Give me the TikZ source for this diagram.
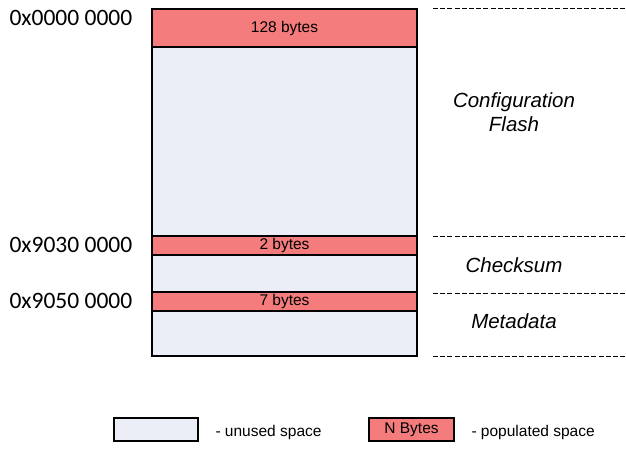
\documentclass[tikz,border=0pt]{standalone}
\usepackage{fontspec}
\setmainfont{Liberation Sans}
\newfontfamily\addrfont{Carlito}
\usetikzlibrary{positioning}
\definecolor{unused}{RGB}{235,238,246}
\definecolor{populated}{RGB}{244,124,124}
\tikzset{
  free/.style={draw=black, line width=1.6pt, fill=unused},
  used/.style={draw=black, line width=1.6pt, fill=populated},
  bound/.style={dash pattern=on 5pt off 2.2pt, line width=1pt},
  addr/.style={font=\addrfont\fontsize{23.5}{26}\selectfont, anchor=west},
  region/.style={font=\itshape\fontsize{20.5}{24}\selectfont, align=center},
  small/.style={font=\fontsize{15.5}{18}\selectfont}
}
\begin{document}
\begin{tikzpicture}[x=1pt, y=-1pt]
      \useasboundingbox (0, 0) rectangle (626, 449);
      % memory map
      \draw [free] (152, 9) rectangle (417, 356);
      \draw [used] (152, 9) rectangle (417, 47) node (cfg) [pos=.5, small] {128 bytes};
      \draw [used] (152, 236) rectangle (417, 255) node (crc) [pos=.5, small] {2 bytes};
      \draw [used] (152, 292) rectangle (417, 311) node (meta) [pos=.5, small] {7 bytes};
      % addresses
      \draw (6, 18) node (a0) [addr] {0x0000 0000}
            (6, 245) node (a1) [addr] {0x9030 0000}
            (6, 301) node (a2) [addr] {0x9050 0000};
      % boundaries
      \draw [bound] (433, 9) -- (626, 9)
                    (433, 236) -- (626, 236)
                    (433, 293) -- (626, 293)
                    (433, 356) -- (626, 356);
      \draw (514, 112) node (flash) [region] {Configuration\\Flash}
            (514, 265) node (chk) [region] {Checksum}
            (514, 321) node (md) [region] {Metadata};
      % legend
      \draw [free, line width=1.3pt] (114, 418) rectangle (198, 441);
      \draw [used, line width=1.3pt] (369, 418) rectangle (454, 441) node (nb) [pos=.5, small] {N Bytes};
      \node (lfree) [small, anchor=west] at (212, 432) {- unused space};
      \node (lused) [small, anchor=west] at (468, 432) {- populated space};
\end{tikzpicture}
\end{document}
